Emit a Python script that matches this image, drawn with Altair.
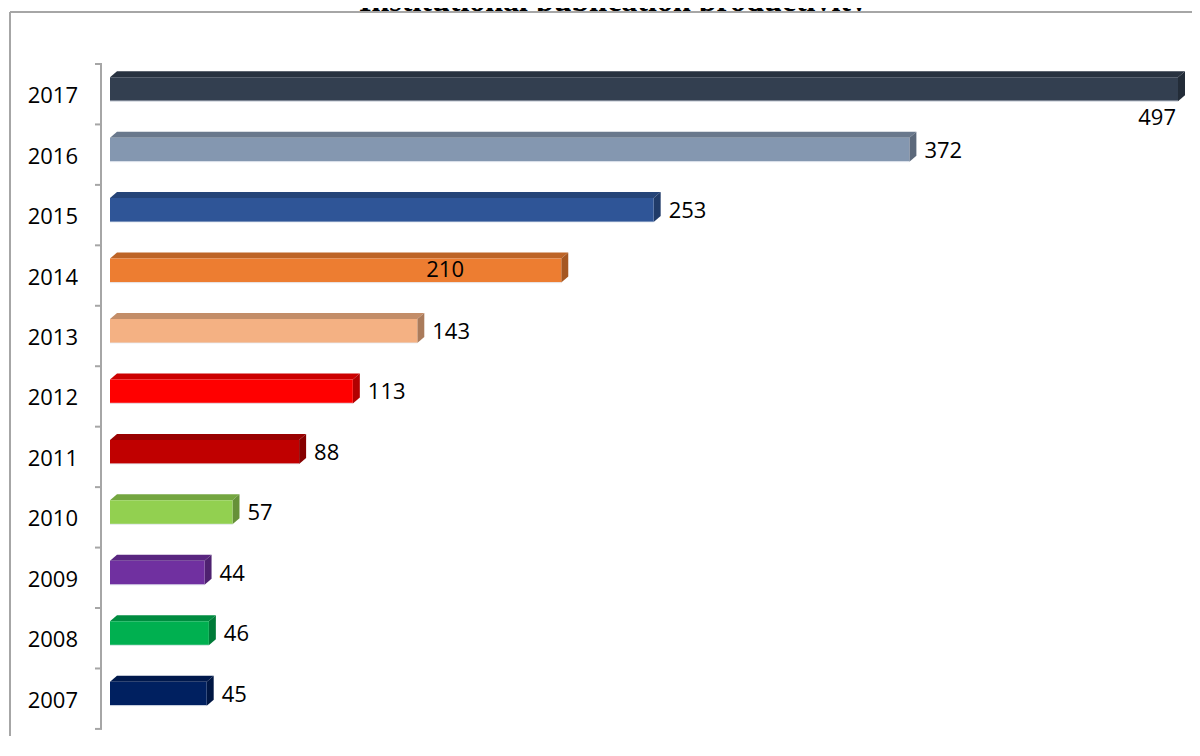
import altair as alt
import pandas as pd

# ---- data ----
years = [2007, 2008, 2009, 2010, 2011, 2012, 2013, 2014, 2015, 2016, 2017]
values = [45, 46, 44, 57, 88, 113, 143, 210, 253, 372, 497]
colors = ["#002060", "#00b050", "#7030a0", "#92d050", "#c00000", "#ff0000",
          "#f4b183", "#ed7d31", "#2f5597", "#8497b0", "#333f50"]
title_text = "Institutional publication productivity"

# ---- layout constants ----
W, H = 1182, 724
PX_PER_UNIT = 1068 / 497          # pixels per publication
PX_PER_YEAR = 60.45               # pixels per category band
XMIN = -100 / PX_PER_UNIT
XMAX = XMIN + W / PX_PER_UNIT
YMAX = 2017 + 82.2 / PX_PER_YEAR
YMIN = YMAX - H / PX_PER_YEAR
DX = 7 / PX_PER_UNIT              # 3D depth, horizontal
DY = 6 / PX_PER_YEAR              # 3D depth, vertical
TOP = 17 / PX_PER_YEAR
BOT = 7 / PX_PER_YEAR


def shade(hexc, f):
    h = hexc.lstrip("#")
    r, g, b = (int(h[i:i + 2], 16) for i in (0, 2, 4))
    return "#{:02x}{:02x}{:02x}".format(int(r * f), int(g * f), int(b * f))


xs = alt.Scale(domain=[XMIN, XMAX], nice=False, zero=False)
ys = alt.Scale(domain=[YMIN, YMAX], nice=False, zero=False)

front = pd.DataFrame({
    "year": years, "value": values, "c": colors, "zero": [0] * len(years),
    "yt": [y + TOP for y in years], "yb": [y - BOT for y in years],
})

top_rows, side_rows = [], []
for y, v, c in zip(years, values, colors):
    tc, sc = shade(c, 0.8), shade(c, 0.7)
    top_rows.append({"year": y, "yy": y + TOP, "xa": 0, "xb": v, "c": tc})
    top_rows.append({"year": y, "yy": y + TOP + DY, "xa": DX, "xb": v + DX, "c": tc})
    side_rows.append({"year": y, "xx": v, "ya": y - BOT, "yb": y + TOP, "c": sc})
    side_rows.append({"year": y, "xx": v + DX, "ya": y - BOT + DY, "yb": y + TOP + DY, "c": sc})
topdf = pd.DataFrame(top_rows)
sidedf = pd.DataFrame(side_rows)

edges = pd.DataFrame({"e": [years[0] - 0.5 + i for i in range(len(years) + 1)]})
axisdf = pd.DataFrame({"y0": [years[0] - 0.5], "y1": [years[-1] + 0.5]})
lab = pd.DataFrame({"year": years, "value": values, "label": [str(v) for v in values]})

FONT = "Open Sans"
GRAY = "#a6a6a6"
one = pd.DataFrame({"a": [0]})

# title (partly hidden behind chart area, as in the original)
title = alt.Chart(pd.DataFrame({"t": [title_text]})).mark_text(
    font="Liberation Serif", fontSize=32, fontWeight="bold", baseline="alphabetic",
    align="center", color="black"
).encode(x=alt.value(603), y=alt.value(-1.5), text="t:N")

cover = alt.Chart(one).mark_rect(color="white").encode(
    x=alt.value(0), x2=alt.value(W), y=alt.value(0), y2=alt.value(H))

border_top = alt.Chart(one).mark_rule(color=GRAY, strokeWidth=2).encode(
    x=alt.value(0), x2=alt.value(W), y=alt.value(0))
border_left = alt.Chart(one).mark_rule(color=GRAY, strokeWidth=2).encode(
    x=alt.value(0), y=alt.value(0), y2=alt.value(H))

axis_line = alt.Chart(axisdf).mark_rule(color=GRAY, strokeWidth=2).encode(
    x=alt.value(91),
    y=alt.Y("y0:Q", scale=ys, axis=None), y2="y1:Q")
ticks = alt.Chart(edges).mark_rule(color=GRAY, strokeWidth=2).encode(
    x=alt.value(85), x2=alt.value(92),
    y=alt.Y("e:Q", scale=ys, axis=None))
ylabels = alt.Chart(lab).mark_text(
    font=FONT, fontSize=22, align="right", baseline="middle", dy=2, color="black"
).encode(x=alt.value(68), y=alt.Y("year:Q", scale=ys, axis=None), text="year:N")

top_face = alt.Chart(topdf).mark_area(orient="horizontal").encode(
    y=alt.Y("yy:Q", scale=ys, axis=None),
    x=alt.X("xa:Q", scale=xs, axis=None), x2="xb:Q",
    detail="year:N", color=alt.Color("c:N", scale=None))
side_face = alt.Chart(sidedf).mark_area(orient="vertical").encode(
    x=alt.X("xx:Q", scale=xs, axis=None),
    y=alt.Y("ya:Q", scale=ys, axis=None), y2="yb:Q",
    detail="year:N", color=alt.Color("c:N", scale=None))
front_face = alt.Chart(front).mark_rect().encode(
    x=alt.X("zero:Q", scale=xs, axis=None), x2="value:Q",
    y=alt.Y("yt:Q", scale=ys, axis=None), y2="yb:Q",
    color=alt.Color("c:N", scale=None))
front_edge = alt.Chart(front).mark_rule(color="#e6ebf2", strokeWidth=1.2, opacity=0.8).encode(
    x=alt.X("zero:Q", scale=xs, axis=None), x2="value:Q",
    y=alt.Y("yb:Q", scale=ys, axis=None))

base_lab = alt.Chart(lab)
vlabels = base_lab.transform_filter(
    (alt.datum.year != 2017) & (alt.datum.year != 2014)
).mark_text(font=FONT, fontSize=22, align="left", baseline="middle", dx=15, dy=-4,
            color="black").encode(
    x=alt.X("value:Q", scale=xs, axis=None),
    y=alt.Y("year:Q", scale=ys, axis=None), text="label:N")
vlabel_top = base_lab.transform_filter(alt.datum.year == 2017).mark_text(
    font=FONT, fontSize=22, align="right", baseline="middle", dx=-2, dy=24, color="black"
).encode(x=alt.X("value:Q", scale=xs, axis=None),
         y=alt.Y("year:Q", scale=ys, axis=None), text="label:N")
vlabel_in = base_lab.transform_filter(alt.datum.year == 2014).mark_text(
    font=FONT, fontSize=22, align="left", baseline="middle", dx=-135, dy=-6, color="black"
).encode(x=alt.X("value:Q", scale=xs, axis=None),
         y=alt.Y("year:Q", scale=ys, axis=None), text="label:N")

chart = alt.layer(
    title, cover, border_top, border_left, axis_line, ticks, ylabels,
    top_face, side_face, front_face, front_edge, vlabels, vlabel_top, vlabel_in
).properties(
    width=W, height=H,
    padding={"left": 2, "top": 4, "right": 0, "bottom": 0},
    autosize=alt.AutoSizeParams(type="none"),
    background="white",
).configure_view(stroke=None)

chart.save("out.html", embed_options={"renderer": "svg", "actions": False})
